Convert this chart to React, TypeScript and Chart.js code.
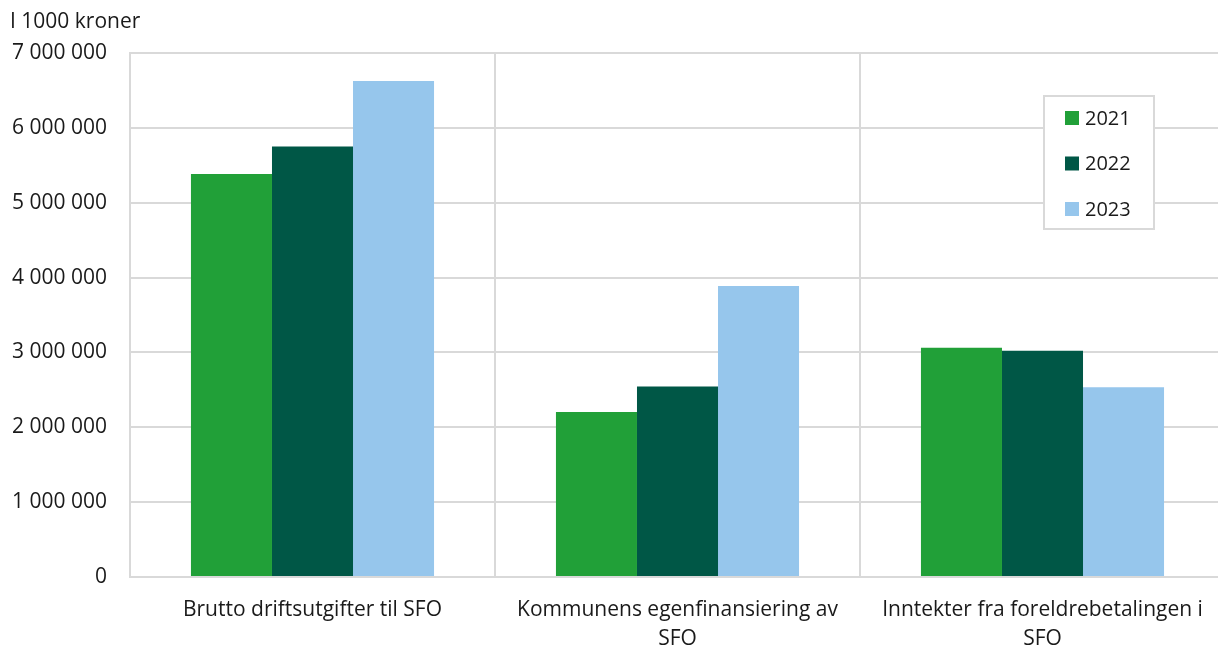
import React, { useEffect, useRef } from "react";
import { Chart, registerables } from "chart.js";

Chart.register(...registerables);

const categories: (string | string[])[] = [
  "Brutto driftsutgifter til SFO",
  ["Kommunens egenfinansiering av", "SFO"],
  ["Inntekter fra foreldrebetalingen i", "SFO"],
];
const seriesLabels = ["2021", "2022", "2023"];
const values2021 = [5383000, 2204000, 3063000];
const values2022 = [5750000, 2545000, 3023000];
const values2023 = [6625000, 3887000, 2534000];
const colors = ["#21a038", "#005746", "#96c6ec"];
const yTitle = "I 1000 kroner";

const FONT = "'Open Sans', 'Noto Sans', sans-serif";

const extrasPlugin = {
  id: "extras",
  afterDraw(chart: any) {
    const ctx = chart.ctx;
    ctx.save();
    ctx.font = `21px ${FONT}`;
    ctx.fillStyle = "#1a1a1a";
    ctx.textBaseline = "middle";
    ctx.textAlign = "left";
    ctx.fillText(yTitle, 10, 22);

    // legend box
    const x0 = 1044, y0 = 96, w = 110, h = 133;
    ctx.fillStyle = "#ffffff";
    ctx.fillRect(x0, y0, w, h);
    ctx.strokeStyle = "#d9d9d9";
    ctx.lineWidth = 2;
    ctx.strokeRect(x0, y0, w, h);
    ctx.font = `20px ${FONT}`;
    chart.data.datasets.forEach((ds: any, i: number) => {
      const cy = 118 + i * 45.5;
      ctx.fillStyle = ds.backgroundColor;
      ctx.fillRect(1065, cy - 7, 14, 14);
      ctx.fillStyle = "#1a1a1a";
      ctx.fillText(ds.label, 1085, cy + 1);
    });
    ctx.restore();
  },
};

export default function App() {
  const ref = useRef<HTMLCanvasElement>(null);
  useEffect(() => {
    document.body.style.margin = "0";
    const chart = new Chart(ref.current!, {
      type: "bar",
      data: {
        labels: categories,
        datasets: [values2021, values2022, values2023].map((d, i) => ({
          label: seriesLabels[i],
          data: d,
          backgroundColor: colors[i],
          borderWidth: 0,
          barPercentage: 1,
          categoryPercentage: 0.666,
        })),
      },
      options: {
        animation: false,
        responsive: false,
        maintainAspectRatio: false,
        layout: { padding: { top: 53, right: 1, left: 10, bottom: 0 } },
        plugins: { legend: { display: false }, tooltip: { enabled: false } },
        scales: {
          x: {
            afterFit: (scale: any) => {
              scale.height = 68;
            },
            grid: { color: "#d9d9d9", lineWidth: 2, drawTicks: false, offset: true },
            border: { color: "#d9d9d9", width: 2 },
            ticks: {
              color: "#1a1a1a",
              font: { family: FONT, size: 21, lineHeight: 1.38 },
              padding: 19,
              maxRotation: 0,
              autoSkip: false,
            },
          },
          y: {
            min: 0,
            max: 7000000,
            afterFit: (scale: any) => {
              scale.width = 120;
            },
            grid: { color: "#d9d9d9", lineWidth: 2, drawTicks: false },
            border: { color: "#d9d9d9", width: 2 },
            ticks: {
              stepSize: 1000000,
              color: "#1a1a1a",
              font: { family: FONT, size: 21 },
              padding: 23,
              callback: (v: any) =>
                Number(v).toString().replace(/\B(?=(\d{3})+(?!\d))/g, " "),
            },
          },
        },
      },
      plugins: [extrasPlugin],
    });
    return () => chart.destroy();
  }, []);
  return (
    <div style={{ width: 1218, height: 645, overflow: "hidden" }}>
      <canvas ref={ref} width={1226} height={645} style={{ display: "block" }} />
    </div>
  );
}
